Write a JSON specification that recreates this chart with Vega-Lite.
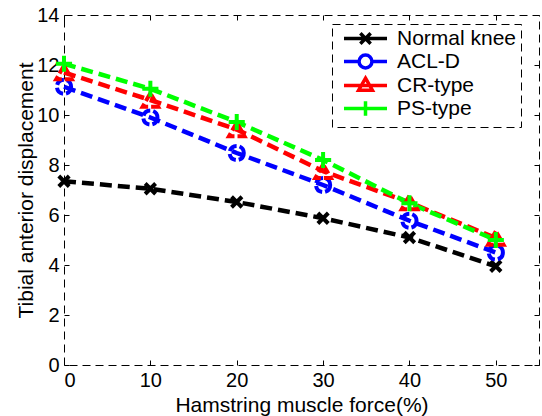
{
  "$schema": "https://vega.github.io/schema/vega-lite/v6.json",
  "width": 475,
  "height": 350,
  "autosize": "none",
  "padding": {"left": 64, "top": 15, "right": 3, "bottom": 51},
  "config": {
    "font": "Liberation Sans",
    "view": {"stroke": "black", "strokeDash": [8, 5], "strokeWidth": 1},
    "axis": {
      "grid": false, "domain": false, "tickColor": "black", "tickSize": -5, "tickWidth": 1,
      "labelColor": "black", "titleColor": "black", "labelFontSize": 20, "titleFontSize": 21,
      "titleFontWeight": "normal", "labelFont": "Liberation Sans", "titleFont": "Liberation Sans"
    },
    "legend": {"strokeColor": "black", "strokeDash": [8, 5], "fillColor": "white"}
  },
  "data": {
    "values": [
      {"x": 0, "y": 7.35, "s": "Normal knee"},
      {"x": 10, "y": 7.05, "s": "Normal knee"},
      {"x": 20, "y": 6.52, "s": "Normal knee"},
      {"x": 30, "y": 5.87, "s": "Normal knee"},
      {"x": 40, "y": 5.1, "s": "Normal knee"},
      {"x": 50, "y": 3.95, "s": "Normal knee"},
      {"x": 0, "y": 11.13, "s": "ACL-D"},
      {"x": 10, "y": 9.9, "s": "ACL-D"},
      {"x": 20, "y": 8.48, "s": "ACL-D"},
      {"x": 30, "y": 7.2, "s": "ACL-D"},
      {"x": 40, "y": 5.77, "s": "ACL-D"},
      {"x": 50, "y": 4.5, "s": "ACL-D"},
      {"x": 0, "y": 11.7, "s": "CR-type"},
      {"x": 10, "y": 10.6, "s": "CR-type"},
      {"x": 20, "y": 9.42, "s": "CR-type"},
      {"x": 30, "y": 7.75, "s": "CR-type"},
      {"x": 40, "y": 6.5, "s": "CR-type"},
      {"x": 50, "y": 5.08, "s": "CR-type"},
      {"x": 0, "y": 12.05, "s": "PS-type"},
      {"x": 10, "y": 11.05, "s": "PS-type"},
      {"x": 20, "y": 9.72, "s": "PS-type"},
      {"x": 30, "y": 8.2, "s": "PS-type"},
      {"x": 40, "y": 6.47, "s": "PS-type"},
      {"x": 50, "y": 5.0, "s": "PS-type"}
    ]
  },
  "resolve": {"axis": {"x": "independent", "y": "independent"}},
  "layer": [
    {
      "mark": {"type": "line", "strokeWidth": 4.5, "strokeDash": [12, 6]},
      "encoding": {
        "x": {"field": "x", "type": "quantitative", "scale": {"domain": [0, 55], "nice": false, "zero": false},
          "axis": {"orient": "bottom", "values": [0, 10, 20, 30, 40, 50], "title": "Hamstring muscle force(%)", "labelPadding": 10, "titleBaseline": "alphabetic", "titleY": 46}},
        "y": {"field": "y", "type": "quantitative", "scale": {"domain": [0, 14], "nice": false, "zero": false},
          "axis": {"orient": "left", "values": [0, 2, 4, 6, 8, 10, 12, 14], "title": "Tibial anterior displacement", "labelPadding": 10, "titleBaseline": "alphabetic", "titleX": -32, "titleY": 175}},
        "color": {"field": "s", "type": "nominal",
          "scale": {"domain": ["Normal knee", "ACL-D", "CR-type", "PS-type"], "range": ["#000000", "#0000ff", "#ff0000", "#00ff00"]}}
      }
    },
    {
      "transform": [{"filter": {"field": "s", "equal": "Normal knee"}}],
      "mark": {"type": "point", "filled": false, "strokeWidth": 4, "size": 170, "opacity": 1, "color": "#000000", "shape": "M-0.8,-0.8L0.8,0.8M-0.8,0.8L0.8,-0.8"},
      "encoding": {
        "x": {"field": "x", "type": "quantitative", "axis": null},
        "y": {"field": "y", "type": "quantitative", "axis": null}
      }
    },
    {
      "transform": [{"filter": {"field": "s", "equal": "ACL-D"}}],
      "mark": {"type": "point", "filled": false, "strokeWidth": 4, "size": 200, "opacity": 1, "color": "#0000ff", "shape": "circle", "strokeDash": [9, 3]},
      "encoding": {
        "x": {"field": "x", "type": "quantitative", "axis": null},
        "y": {"field": "y", "type": "quantitative", "axis": null}
      }
    },
    {
      "transform": [{"filter": {"field": "s", "equal": "CR-type"}}],
      "mark": {"type": "point", "filled": false, "strokeWidth": 4, "size": 240, "opacity": 1, "color": "#ff0000", "shape": "triangle-up", "strokeDash": [9, 3]},
      "encoding": {
        "x": {"field": "x", "type": "quantitative", "axis": null},
        "y": {"field": "y", "type": "quantitative", "axis": null}
      }
    },
    {
      "transform": [{"filter": {"field": "s", "equal": "PS-type"}}],
      "mark": {"type": "point", "filled": false, "strokeWidth": 4, "size": 260, "opacity": 1, "color": "#00ff00", "shape": "M-1,0L1,0M0,-1L0,1"},
      "encoding": {
        "x": {"field": "x", "type": "quantitative", "axis": null},
        "y": {"field": "y", "type": "quantitative", "axis": null}
      }
    },
    {
      "mark": {"type": "point", "opacity": 0, "filled": false},
      "encoding": {
        "x": {"field": "x", "type": "quantitative", "axis": {"orient": "top", "values": [0, 10, 20, 30, 40, 50], "labels": false, "title": null}},
        "y": {"field": "y", "type": "quantitative", "axis": {"orient": "right", "values": [0, 2, 4, 6, 8, 10, 12, 14], "labels": false, "title": null}},
        "color": {"field": "s", "type": "nominal",
          "legend": {"orient": "none", "legendX": 268, "legendY": 9, "title": null,
            "symbolSize": 296, "symbolStrokeWidth": 3.5, "symbolOpacity": 1, "symbolFillColor": "transparent", "symbolOffset": 19,
            "labelFontSize": 21, "labelFont": "Liberation Sans", "labelColor": "black",
            "padding": 4, "rowPadding": -4, "labelOffset": 21}},
        "shape": {"field": "s", "type": "nominal",
          "scale": {"domain": ["Normal knee", "ACL-D", "CR-type", "PS-type"],
            "range": [
              "M-2.5,0L2.5,0M-0.6,-0.6L0.6,0.6M-0.6,0.6L0.6,-0.6",
              "M-2.5,0L-0.75,0M0.75,0L2.5,0M-0.75,0A0.75,0.75 0 1,0 0.75,0A0.75,0.75 0 1,0 -0.75,0",
              "M-2.5,0L2.5,0M0,-0.85L0.8,0.55L-0.8,0.55Z",
              "M-2.5,0L2.5,0M0,-0.85L0,0.85"
            ]},
          "legend": {"orient": "none", "legendX": 268, "legendY": 9, "title": null,
            "symbolSize": 296, "symbolStrokeWidth": 3.5, "symbolOpacity": 1, "symbolFillColor": "transparent", "symbolOffset": 19,
            "labelFontSize": 21, "labelFont": "Liberation Sans", "labelColor": "black",
            "padding": 4, "rowPadding": -4, "labelOffset": 21}}
      }
    }
  ]
}
